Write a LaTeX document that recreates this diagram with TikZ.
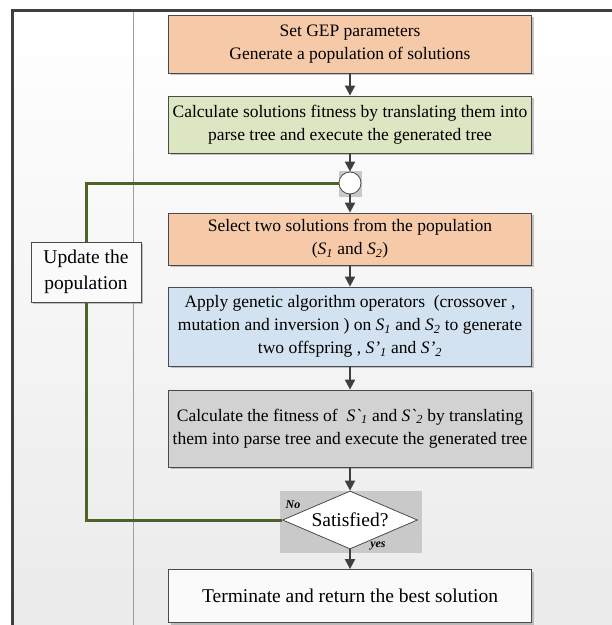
\documentclass[tikz,border=0pt]{standalone}
\usepackage{fontspec}
\setmainfont{Liberation Serif}
\usetikzlibrary{arrows.meta,shapes.geometric,shadows}
\definecolor{peach}{HTML}{F6CAA9}
\definecolor{leaf}{HTML}{DCE6C2}
\definecolor{sky}{HTML}{D3E2F0}
\definecolor{stone}{HTML}{D2D2D2}
\definecolor{edge}{HTML}{4A4A4A}
\definecolor{olive}{HTML}{4F6228}
\definecolor{frame}{HTML}{3F3F3F}
\definecolor{bgpatch}{HTML}{C9C9C9}
\newcommand\Sx[2]{\textit{S#1}\textsubscript{\textit{#2}}}
\tikzset{
  box/.style={draw=edge, line width=0.8pt, minimum width=363pt, align=center,
    inner sep=0pt, font=\fontsize{17.5}{23}\selectfont,
    drop shadow={shadow xshift=2pt, shadow yshift=-2pt, fill=black!45, opacity=0.5}},
  bigtext/.style={font=\fontsize{19.5}{26}\selectfont},
  arr/.style={draw=frame, line width=2pt, -{Triangle[width=10pt,length=10pt]}},
  gline/.style={draw=olive, line width=3pt},
  lbl/.style={font=\bfseries\itshape\fontsize{12}{12}\selectfont, inner sep=0pt}
}
\begin{document}
\begin{tikzpicture}[x=1pt,y=-1pt]
\useasboundingbox (0,0) rectangle (612,625);
\shade[top color=white, bottom color=black!8] (12,10) rectangle (612,625);
\draw[gray!75, line width=0.8pt] (133,10) -- (133,625);
\draw[frame, line width=3pt] (12,625) -- (12,10) -- (612,10);

\node[box, fill=peach, minimum height=58pt] (b1) at (350,44)
  {Set GEP parameters\\Generate a population of solutions};
\node[box, fill=leaf, minimum height=57pt] (b2) at (350,124.5)
  {Calculate solutions fitness by translating them into\\parse tree and execute the generated tree};
\fill[bgpatch] (339,171) rectangle (362,197);
\node[circle, draw=edge, line width=0.8pt, fill=white, minimum size=22pt, inner sep=0pt] (c) at (350,183) {};
\node[box, fill=peach, minimum height=52pt] (b3) at (350,239)
  {Select two solutions from the population\\(\Sx{}{1} and \Sx{}{2})};
\node[box, fill=sky, minimum height=79pt] (b4) at (350,326.5)
  {Apply genetic algorithm operators\ \ (crossover ,\\mutation and inversion ) on \Sx{}{1} and \Sx{}{2} to generate\\two offspring , \Sx{’}{1} and \Sx{’}{2}};
\node[box, fill=stone, minimum height=77pt] (b5) at (350,428.5)
  {Calculate the fitness of\ \ \Sx{\textasciigrave}{1} and \Sx{\textasciigrave}{2} by translating\\them into parse tree and execute the generated tree};
\fill[bgpatch] (280,491) rectangle (422,553);
\node[diamond, draw=edge, line width=0.8pt, fill=white, aspect=2.33, minimum width=135pt,
  minimum height=58pt, inner sep=0pt, bigtext] (d) at (350,520) {Satisfied?};
\node[box, fill=black!2, minimum height=53pt, bigtext] (t) at (350,596)
  {Terminate and return the best solution};
\node[box, fill=black!2, minimum width=110pt, minimum height=60pt, bigtext] (u) at (86,272)
  {Update the\\population};
\node[lbl] (no) at (293,505) {No};
\node[lbl] (yes) at (378,546) {yes};

\draw[arr] (b1) -- (b2);
\draw[arr] (b2) -- (c);
\draw[arr] (c) -- (b3);
\draw[arr] (b3) -- (b4);
\draw[arr] (b4) -- (b5);
\draw[arr] (b5) -- (d);
\draw[arr] (d) -- (t);
\draw[gline] (c.west) -| (u.north);
\draw[gline] (u.south) |- (d.west);
\end{tikzpicture}
\end{document}
